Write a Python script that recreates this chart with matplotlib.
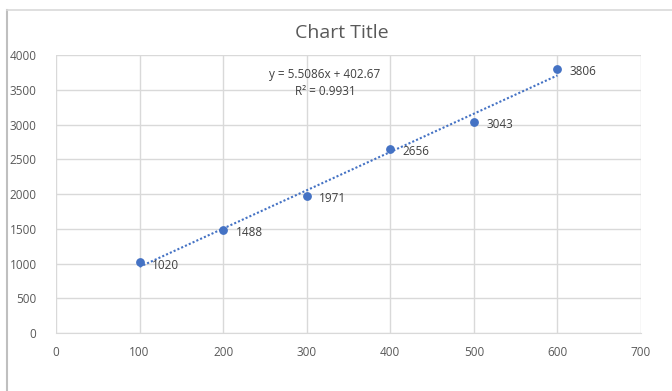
import matplotlib.pyplot as plt
import numpy as np
from matplotlib.lines import Line2D

x_vals = [100, 200, 300, 400, 500, 600]
y_vals = [1020, 1488, 1971, 2656, 3043, 3806]
slope = 5.5086
intercept = 402.67
r_squared = 0.9931

plt.rcParams['font.family'] = ['Open Sans', 'DejaVu Sans']

fig = plt.figure(figsize=(6.72, 3.91), dpi=100)
ax = fig.add_axes([0.0833, 0.148, 0.8705, 0.711])

blue = '#4472C4'
grid_c = '#D9D9D9'
text_c = '#595959'

# trendline
tx = np.array([x_vals[0], x_vals[-1]])
ax.plot(tx, slope * tx + intercept, color=blue, linestyle=(0, (1, 1)), linewidth=1.5, zorder=2)
ax.scatter(x_vals, y_vals, s=28, color=blue, zorder=3)

for xv, yv in zip(x_vals, y_vals):
    ax.annotate(str(yv), (xv, yv), xytext=(9, -2), textcoords='offset points',
                ha='left', va='center', fontsize=8.5, color='#404040')

ax.text(0.46, 0.93, f'y = {slope}x + {intercept}', transform=ax.transAxes,
        ha='center', va='center', fontsize=8.5, color='#404040')
ax.text(0.46, 0.87, f'R² = {r_squared}', transform=ax.transAxes,
        ha='center', va='center', fontsize=8.5, color='#404040')

ax.set_xlim(0, 700)
ax.set_ylim(0, 4000)
ax.set_xticks(range(0, 701, 100))
ax.set_yticks(range(0, 4001, 500))
ax.grid(True, color=grid_c, linewidth=1)
ax.set_axisbelow(True)
for side in ['top', 'right', 'left']:
    ax.spines[side].set_visible(False)
ax.spines['bottom'].set_color(grid_c)
ax.tick_params(length=0, labelsize=8.5, labelcolor=text_c, pad=9)
ax.tick_params(axis='y', pad=14)

fig.text(0.508, 0.916, 'Chart Title', ha='center', va='center', fontsize=14, color=text_c)

# chart frame edges
fig.add_artist(Line2D([7 / 672, 7 / 672], [0, 1 - 10 / 391], color='#BFBFBF', linewidth=1.5))
fig.add_artist(Line2D([7 / 672, 1], [1 - 10 / 391, 1 - 10 / 391], color='#D9D9D9', linewidth=1.2))

fig.savefig('out.png', dpi=100)
